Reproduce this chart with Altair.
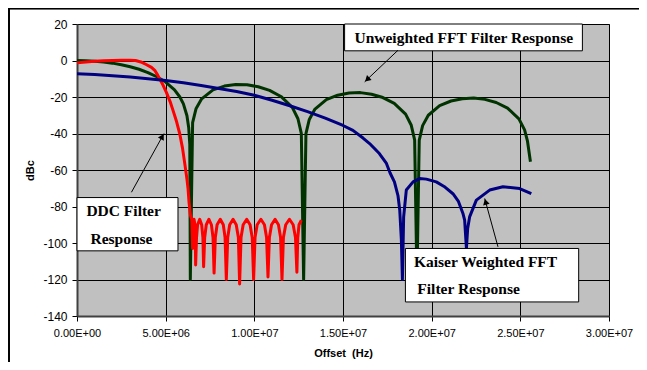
import math
import altair as alt
import pandas as pd

# ---------------- data (x in MHz, y in dBc) ----------------
ddc_mhz = [0, 0.5, 1, 1.5, 2, 2.5, 3, 3.3, 3.6, 3.9,
           4.2, 4.4, 4.55, 4.66, 4.85, 5.04, 5.25, 5.41, 5.6, 5.79, 5.95,
           6.1, 6.2, 6.26, 6.32, 6.4, 6.47, 6.52,
           6.54, 6.56, 6.6, 6.65, 6.67, 6.69,
           6.74, 6.8, 6.92, 7.03, 7.1, 7.14,
           7.2, 7.29, 7.44, 7.58, 7.67, 7.73,
           7.8, 7.9, 8.08, 8.25, 8.35, 8.42,
           8.5, 8.61, 8.8, 8.98, 9.1, 9.17,
           9.25, 9.37, 9.57, 9.76, 9.88, 9.96,
           10.04, 10.16, 10.37, 10.57, 10.69, 10.77,
           10.85, 10.97, 11.17, 11.36, 11.48, 11.56,
           11.64, 11.77, 11.98, 12.19, 12.32, 12.4,
           12.45, 12.52, 12.65]
ddc_db = [-1.3, -0.8, -0.4, -0.1, 0, 0.2, 0.2, 0, -0.8, -2.2,
          -3.8, -5.6, -8, -10, -13.5, -17.5, -22.5, -27.2, -33, -40, -48,
          -58, -65, -70, -78, -85, -87, -103,
          -97, -90, -87, -90, -97, -112,
          -97, -90, -87, -90, -97, -113,
          -97, -90, -87, -90, -97, -116.5,
          -97, -90, -87, -90, -97, -120,
          -97, -90, -87, -90, -97, -122.5,
          -97, -90, -87, -90, -97, -120,
          -97, -90, -87, -90, -97, -118.6,
          -97, -90, -87, -90, -97, -120,
          -97, -90, -87, -90, -97, -116,
          -97, -90, -87.5]

unw_mhz = [0, 0.5, 1, 1.5, 2, 2.5, 3, 3.5, 4, 4.5, 5, 5.5, 5.8, 6.0, 6.2, 6.3, 6.36, 6.39,
           6.52, 6.71, 7.03, 7.67, 8.31, 8.95, 9.59, 10.22, 10.86, 11.5, 12.14, 12.46, 12.65, 12.78,
           12.91, 13.1, 13.42, 14.06, 14.7, 15.34, 15.98, 16.61, 17.25, 17.89, 18.53, 18.85, 19.04, 19.17,
           19.3, 19.49, 19.81, 20.45, 21.09, 21.73, 22.37, 23.0, 23.64, 24.28, 24.92, 25.24, 25.4, 25.57]
unw_db = [0, -0.1, -0.35, -0.8, -1.45, -2.3, -3.4, -4.8, -6.6, -8.9, -11.8, -16.1, -20, -23.8, -30.3, -36.9, -46, -120,
          -34, -26.5, -21, -16.1, -14, -13.1, -13.3, -14.4, -16.4, -19.7, -25.7, -31.9, -39.9, -120,
          -40.1, -32.3, -26.6, -21.4, -19, -17.8, -17.6, -18.5, -20.3, -23.5, -29.4, -35.5, -43.5, -120,
          -43.6, -35.7, -30, -24.7, -22.2, -21, -20.6, -21.3, -23, -26.1, -32, -38, -44, -55.5]

kai_mhz = [0, 1, 2, 3, 4, 5, 6, 7, 8, 9, 10, 11, 12, 13, 14, 15,
           15.56, 16.13, 16.5, 17.05, 17.45, 17.65, 17.9, 18.1, 18.2, 18.29, 18.35,
           18.42, 18.57, 18.95, 19.32, 19.7, 20.26, 20.7, 21.2, 21.5, 21.77, 21.86, 21.96,
           22.03, 22.14, 22.52, 23.27, 24.02, 24.96, 25.62]
kai_db = [-7.3, -7.7, -8.4, -9.1, -10, -10.9, -12.2, -13.7, -15.3, -17, -19, -21.8, -24.8, -28, -31.6, -35.6,
          -38.3, -42.5, -45.5, -51, -56.4, -61.5, -66.5, -74, -82, -98, -120,
          -85.7, -71, -66.5, -64.7, -65, -66.5, -69, -73, -77, -84, -87.5, -103,
          -92, -85.7, -76.5, -71, -69.2, -70.2, -73]

x_ticks = [0, 5e6, 1e7, 1.5e7, 2e7, 2.5e7, 3e7]
y_ticks = [-140, -120, -100, -80, -60, -40, -20, 0, 20]

# annotation boxes (Hz, dBc)
box_x1 = [1.509e7, 0.0, 1.852e7]
box_x2 = [2.850e7, 5.695e6, 2.829e7]
box_y1 = [20.0, -75.1, -103.0]
box_y2 = [5.3, -104.3, -132.3]

label_text = ["Unweighted FFT Filter Response", "DDC Filter", "Response",
              "Kaiser Weighted FFT", "Filter Response"]
label_x = [2.181e7, 0.53e6, 0.76e6, 1.90e7, 1.919e7]
label_y = [12.4, -82.6, -97.6, -110.5, -125.1]
label_align = ["center", "left", "left", "left", "left"]

# arrows: tail -> tip
arr_x1 = [1.81e7, 3.07e6, 2.374e7]
arr_y1 = [5.6, -72.2, -102.1]
arr_x2 = [1.622e7, 4.905e6, 2.299e7]
arr_y2 = [-11.7, -40.0, -75.6]

# ---------------- frames ----------------
W, H = 532, 292
KX = W / 3e7
KY = H / 160.0

def series(xs, ys):
    return pd.DataFrame({"x": [v * 1e6 for v in xs], "y": ys, "i": range(len(xs))})

ddc = series(ddc_mhz, ddc_db)
unw = series(unw_mhz, unw_db)
kai = series(kai_mhz, kai_db)

boxes = pd.DataFrame({"x": box_x1, "x2": box_x2, "y": box_y1, "y2": box_y2})
labels = pd.DataFrame({"x": label_x, "y": label_y, "t": label_text, "a": label_align})

heads = []
for x1, y1, x2, y2 in zip(arr_x1, arr_y1, arr_x2, arr_y2):
    dx = (x2 - x1) * KX
    dy = -(y2 - y1) * KY
    L = math.hypot(dx, dy)
    f = 1 - 3.5 / L
    ang = math.degrees(math.atan2(dx, -dy)) % 360
    heads.append({"x": x1 + (x2 - x1) * f, "y": y1 + (y2 - y1) * f, "ang": ang})
heads = pd.DataFrame(heads)
arrows = pd.DataFrame({"x": arr_x1, "y": arr_y1, "x2": arr_x2, "y2": arr_y2})

xscale = alt.Scale(domain=[0, 3e7], nice=False, zero=False)
yscale = alt.Scale(domain=[-140, 20], nice=False, zero=False)

xaxis = alt.Axis(values=x_ticks, title="Offset\u00a0 (Hz)",
                 labelExpr="replace(format(datum.value, '.2e'), 'e+', 'E+0')",
                 labelFlush=False, labelOverlap=False, labelFontSize=11, labelPadding=6,
                 titleY=40.5, titleBaseline="alphabetic")
yaxis = alt.Axis(values=y_ticks, title="dBc", labelExpr="'' + datum.value",
                 labelFlush=False, labelOverlap=False,
                 labelFontSize=12, labelPadding=5,
                 titleAngle=270, titleX=-47, titleY=146,
                 titleAlign="center", titleBaseline="middle")

X = alt.X("x:Q", scale=xscale, axis=xaxis)
Y = alt.Y("y:Q", scale=yscale, axis=yaxis)

def line(df, color):
    return alt.Chart(df).mark_line(color=color, strokeWidth=3, strokeJoin="round").encode(
        x=X, y=Y, order="i:Q")

base_lines = alt.layer(
    line(unw, "#003300"),
    line(ddc, "#FF0000"),
    line(kai, "#000080"),
)

box_layer = alt.Chart(boxes).mark_rect(fill="white", stroke="black", strokeWidth=1).encode(
    x=X, x2="x2:Q", y=Y, y2="y2:Q")

text_center = alt.Chart(labels[labels.a == "center"]).mark_text(
    font="Liberation Serif", fontWeight="bold", fontSize=15.5, align="center",
    baseline="middle", color="black").encode(x=X, y=Y, text="t:N")
text_left = alt.Chart(labels[labels.a == "left"]).mark_text(
    font="Liberation Serif", fontWeight="bold", fontSize=15.5, align="left",
    baseline="middle", color="black").encode(x=X, y=Y, text="t:N")

arrow_layer = alt.Chart(arrows).mark_rule(color="black", strokeWidth=1).encode(
    x=X, y=Y, x2="x2:Q", y2="y2:Q")
head_layer = alt.Chart(heads).mark_point(shape="triangle-up", filled=True, size=45,
                                         color="black", opacity=1).encode(
    x=X, y=Y, angle=alt.Angle("ang:Q", scale=None))

frame_left = alt.Chart(boxes).mark_rule(color="black", strokeWidth=1.5).encode(
    x=alt.value(-68), y=alt.value(-16), y2=alt.value(340))
frame_top = alt.Chart(boxes).mark_rule(color="black", strokeWidth=1.5).encode(
    x=alt.value(-68), x2=alt.value(562), y=alt.value(-15.5))

chart = alt.layer(
    base_lines, box_layer, text_center, text_left, arrow_layer, head_layer,
    frame_left, frame_top,
).properties(
    width=W, height=H,
    autosize=alt.AutoSizeParams(type="none"),
    padding={"left": 69, "top": 16, "right": 30, "bottom": 46},
    background="white",
).configure_view(
    fill="#C0C0C0", stroke="#808080", strokeWidth=1,
).configure_axis(
    domainColor="#404040", domainWidth=2,
    tickColor="black", tickSize=5, tickWidth=1,
    grid=True, gridColor="black", gridWidth=1, gridOpacity=1,
    labelFont="Liberation Sans", labelColor="black",
    titleFont="Liberation Sans", titleFontSize=11, titleFontWeight="bold", titleColor="black",
)

chart.save("out.html", embed_options={"renderer": "svg", "actions": False})
